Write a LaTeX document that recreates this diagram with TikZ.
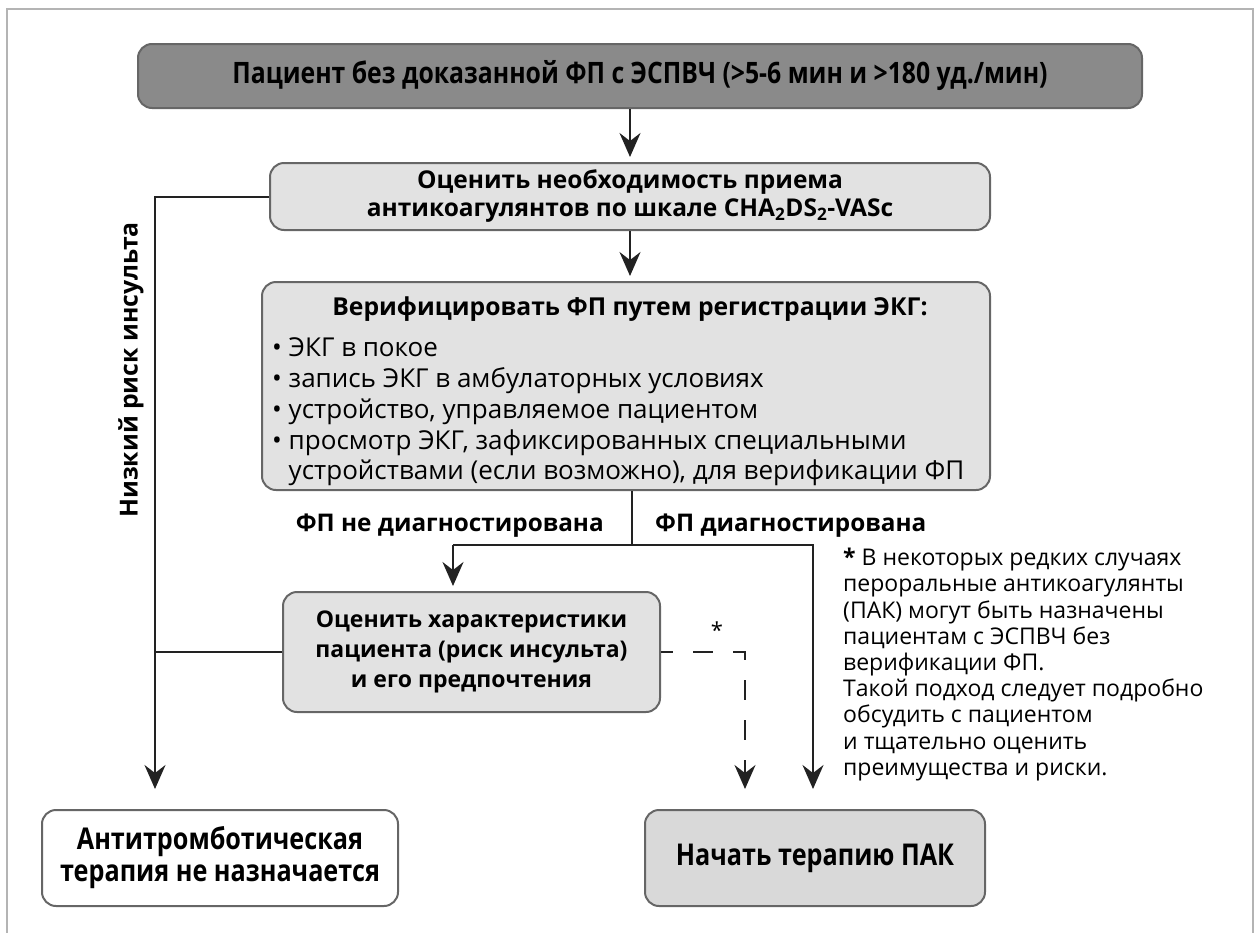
\documentclass[tikz,border=0pt]{standalone}
\usepackage{fontspec}
\setmainfont{Open Sans}
\newfontfamily\condfont[FakeStretch=0.84]{Open Sans}
\usetikzlibrary{arrows.meta,calc}
\definecolor{framegray}{HTML}{B4B4B4}
\definecolor{darkbox}{HTML}{8A8A8A}
\definecolor{lightbox}{HTML}{E2E2E2}
\definecolor{midbox}{HTML}{D9D9D9}
\definecolor{boxline}{HTML}{666666}
\definecolor{linecol}{HTML}{222222}
\begin{document}
\begin{tikzpicture}[x=1pt,y=-1pt,
  box/.style={draw=boxline, line width=2pt, rounded corners=14pt, inner sep=0pt, align=center, text=black},
  conn/.style={draw=linecol, line width=2pt},
  tip/.style={-{Stealth[length=24pt,width=21pt,inset=8pt]}},
  arr/.style={conn, tip},
  dashconn/.style={conn, dash pattern=on 20pt off 20pt, dash phase=8pt},
  lbl/.style={font=\bfseries\fontsize{24.3}{28}\selectfont, inner sep=0pt},
  bul/.style={font=\fontsize{26}{30}\selectfont, inner sep=0pt, anchor=base west}
]
\useasboundingbox (0,0) rectangle (1260,932);
\clip (0,0) rectangle (1260,932);
\draw[framegray, line width=2.5pt] (7,950) -- (7,9) -- (1253,9) -- (1253,950);

% boxes
\node[box, fill=darkbox, minimum width=1004pt, minimum height=64pt,
      font=\condfont\bfseries\fontsize{29.5}{34}\selectfont] (top) at (640,76)
  {Пациент без доказанной ФП с ЭСПВЧ (>5-6 мин и >180 уд./мин)};
\node[box, fill=lightbox, minimum width=720pt, minimum height=67pt,
      font=\bfseries\fontsize{24.5}{28}\selectfont] (eval) at (630,196.5)
  {Оценить необходимость приема\\антикоагулянтов по шкале CHA\textsubscript{2}DS\textsubscript{2}-VASc};
\node[box, fill=lightbox, minimum width=728pt, minimum height=208pt] (verify) at (626,386) {};
\node[inner sep=0pt, font=\bfseries\fontsize{24.7}{28}\selectfont] (vtitle) at (630,309) {Верифицировать ФП путем регистрации ЭКГ:};
\node[bul] (b1) at (272,356) {\textbullet\ ЭКГ в покое};
\node[bul] (b2) at (272,387) {\textbullet\ запись ЭКГ в амбулаторных условиях};
\node[bul] (b3) at (272,418) {\textbullet\ устройство, управляемое пациентом};
\node[bul] (b4) at (272,449) {\textbullet\ просмотр ЭКГ, зафиксированных специальными};
\node[bul] (b5) at (272,479) {\phantom{\textbullet\ }устройствами (если возможно), для верификации ФП};

\node[lbl, anchor=base east] (nodx) at (604,531) {ФП не диагностирована};
\node[lbl, anchor=base west] (dx) at (655,531) {ФП диагностирована};

\node[box, fill=lightbox, minimum width=377pt, minimum height=120pt,
      font=\bfseries\fontsize{23}{30}\selectfont] (patient) at (471.5,652)
  {Оценить характеристики\\пациента (риск инсульта)\\и его предпочтения};
\node[box, fill=white, minimum width=356pt, minimum height=96pt,
      font=\condfont\bfseries\fontsize{30}{32}\selectfont] (noat) at (220,858)
  {Антитромботическая\\терапия не назначается};
\node[box, fill=midbox, minimum width=340pt, minimum height=96pt,
      font=\condfont\bfseries\fontsize{30}{32}\selectfont] (oac) at (815,858)
  {Начать терапию ПАК};

\node[font=\fontsize{22}{24}\selectfont, inner sep=0pt] (star) at (717,630) {*};
\node[anchor=north west, align=left, inner sep=0pt,
      font=\fontsize{23}{26.2}\selectfont] (note) at (843,548)
  {\textbf{*} В некоторых редких случаях\\
   пероральные антикоагулянты\\
   (ПАК) могут быть назначены\\
   пациентам с ЭСПВЧ без\\
   верификации ФП.\\
   Такой подход следует подробно\\
   обсудить с пациентом\\
   и тщательно оценить\\
   преимущества и риски.};

\node[inner sep=0pt, font=\bfseries\fontsize{24.8}{28}\selectfont, rotate=90] (low) at (131,370) {Низкий риск инсульта};

% connectors
\coordinate (L) at (155,196.5);
\coordinate (B) at (632,545);
\coordinate (Lb) at (453,545);
\coordinate (R) at (813,545);
\coordinate (D) at (745,652);

\draw[arr, shorten >=5pt] (top.south -| eval.north) -- (eval.north);
\draw[arr, shorten >=5pt] (eval.south) -- (eval.south |- verify.north);
\draw[arr, shorten >=20pt] (eval.west) -- (L) -- (L |- noat.north);
\draw[conn] (patient.west) -- (patient.west -| L);
\draw[conn] (verify.south -| B) -- (B);
\draw[arr, shorten >=20pt] (Lb) -- (R) -- (R |- oac.north);
\draw[arr, shorten >=5pt] (Lb) -- (Lb |- patient.north);
\draw[dashconn, tip, shorten >=20pt] (patient.east) -- (D) -- (D |- oac.north);
\end{tikzpicture}
\end{document}
